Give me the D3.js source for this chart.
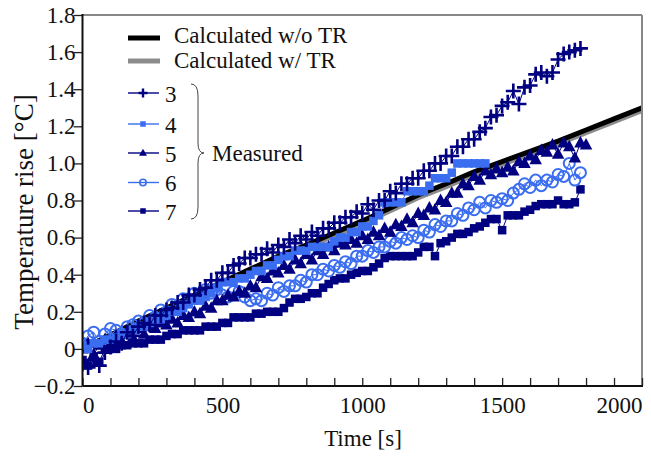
<!DOCTYPE html>
<html>
<head>
<meta charset="utf-8">
<script src="https://cdn.jsdelivr.net/npm/d3@7"></script>
</head>
<body style="margin:0">
<svg id="chart" width="651" height="459" font-family="Liberation Serif, Times New Roman, serif"></svg>
<script>
// sample times of the measured runs [s]
const times = [0, 20, 40, 60, 80, 100, 120, 140, 160, 180, 200, 220, 240, 260, 280, 300, 320, 340, 360, 380,
  400, 420, 440, 460, 480, 500, 520, 540, 560, 580, 600, 620, 640, 660, 680, 700, 720, 740, 760, 780,
  800, 820, 840, 860, 880, 900, 920, 940, 960, 980, 1000, 1020, 1040, 1060, 1080, 1100, 1120, 1140, 1160, 1180,
  1200, 1220, 1240, 1260, 1280, 1300, 1320, 1340, 1360, 1380, 1400, 1420, 1440, 1460, 1480, 1500, 1520, 1540,
  1560, 1580, 1600, 1620, 1640, 1660, 1680, 1700, 1720, 1740, 1760, 1780, 1800];

// measured temperature rise [°C]
const run3 = [-0.08, -0.1, -0.06, -0.09, -0.02, 0.01, 0.04, 0.03, 0.09, 0.07, 0.12, 0.14, 0.13, 0.18, 0.18,
  0.21, 0.22, 0.25, 0.25, 0.29, 0.29, 0.32, 0.33, 0.37, 0.37, 0.41, 0.41, 0.45, 0.46, 0.49, 0.49, 0.51, 0.51,
  0.54, 0.52, 0.56, 0.55, 0.59, 0.57, 0.61, 0.59, 0.63, 0.61, 0.65, 0.65, 0.68, 0.68, 0.71, 0.71, 0.74, 0.73,
  0.78, 0.75, 0.8, 0.8, 0.85, 0.84, 0.89, 0.89, 0.92, 0.92, 0.96, 0.96, 1.0, 1.0, 1.04, 1.04, 1.09, 1.09,
  1.13, 1.13, 1.17, 1.19, 1.25, 1.26, 1.31, 1.33, 1.39, 1.32, 1.41, 1.42, 1.48, 1.49, 1.47, 1.49, 1.56, 1.59,
  1.6, 1.61, 1.62];
const run4 = [0.02, 0.0, 0.03, 0.03, 0.05, 0.05, 0.06, 0.08, 0.08, 0.1, 0.12, 0.12, 0.14, 0.16, 0.16, 0.18,
  0.2, 0.2, 0.22, 0.24, 0.26, 0.26, 0.28, 0.3, 0.33, 0.36, 0.36, 0.36, 0.38, 0.38, 0.4, 0.42, 0.42, 0.45,
  0.45, 0.48, 0.5, 0.5, 0.53, 0.53, 0.53, 0.55, 0.55, 0.55, 0.55, 0.58, 0.6, 0.6, 0.63, 0.63, 0.66, 0.66,
  0.69, 0.72, 0.79, 0.79, 0.79, 0.79, 0.85, 0.85, 0.85, 0.85, 0.88, 0.92, 0.92, 0.92, 0.95, 1.0, 1.0, 1.0,
  1.0, 1.0, 1.0];
const run5 = [0.0, 0.03, -0.03, 0.02, 0.05, 0.01, 0.07, 0.04, 0.09, 0.06, 0.11, 0.08, 0.12, 0.11, 0.14, 0.13,
  0.16, 0.14, 0.18, 0.17, 0.2, 0.19, 0.23, 0.22, 0.26, 0.26, 0.29, 0.28, 0.31, 0.3, 0.34, 0.33, 0.39, 0.38,
  0.42, 0.41, 0.45, 0.43, 0.48, 0.46, 0.51, 0.48, 0.53, 0.51, 0.55, 0.53, 0.57, 0.56, 0.59, 0.57, 0.61, 0.59,
  0.63, 0.61, 0.65, 0.63, 0.67, 0.66, 0.7, 0.68, 0.73, 0.72, 0.76, 0.75, 0.8, 0.79, 0.84, 0.84, 0.89, 0.88,
  0.93, 0.91, 0.96, 0.94, 0.97, 0.95, 0.98, 0.96, 1.01, 1.0, 1.04, 1.02, 1.07, 1.06, 1.1, 1.05, 1.11, 1.09,
  1.03, 1.11, 1.1];
const run6 = [0.03, 0.07, 0.09, 0.04, 0.08, 0.11, 0.1, 0.08, 0.12, 0.13, 0.15, 0.14, 0.18, 0.17, 0.21, 0.2,
  0.24, 0.23, 0.27, 0.27, 0.3, 0.29, 0.32, 0.3, 0.32, 0.29, 0.28, 0.31, 0.31, 0.28, 0.26, 0.27, 0.26, 0.3,
  0.29, 0.33, 0.31, 0.34, 0.34, 0.37, 0.36, 0.4, 0.4, 0.43, 0.42, 0.45, 0.44, 0.47, 0.46, 0.5, 0.5, 0.53,
  0.52, 0.55, 0.55, 0.58, 0.57, 0.6, 0.59, 0.61, 0.6, 0.64, 0.63, 0.67, 0.66, 0.69, 0.69, 0.73, 0.72, 0.76,
  0.75, 0.79, 0.76, 0.8, 0.79, 0.81, 0.8, 0.84, 0.86, 0.89, 0.87, 0.91, 0.88, 0.91, 0.9, 0.94, 0.93, 1.0,
  0.91, 0.95];
const run7 = [-0.06, -0.09, -0.04, -0.07, 0.0, 0.02, 0.0, 0.02, 0.02, 0.03, 0.03, 0.03, 0.05, 0.05, 0.05,
  0.07, 0.08, 0.08, 0.1, 0.1, 0.1, 0.1, 0.12, 0.12, 0.12, 0.14, 0.14, 0.17, 0.17, 0.17, 0.17, 0.19, 0.19,
  0.2, 0.2, 0.2, 0.22, 0.25, 0.27, 0.27, 0.28, 0.3, 0.3, 0.33, 0.35, 0.37, 0.38, 0.38, 0.4, 0.41, 0.42,
  0.42, 0.44, 0.46, 0.49, 0.5, 0.5, 0.5, 0.5, 0.5, 0.52, 0.55, 0.55, 0.5, 0.57, 0.58, 0.6, 0.62, 0.62,
  0.63, 0.65, 0.66, 0.68, 0.7, 0.7, 0.64, 0.72, 0.72, 0.72, 0.74, 0.75, 0.77, 0.78, 0.78, 0.78, 0.8, 0.78,
  0.78, 0.79, 0.86];

// calculated curves
const calcTimes = [0, 100, 200, 300, 400, 500, 600, 700, 800, 900, 1000, 1100, 1200, 1300, 1400, 1500,
  1600, 1700, 1800, 1900, 2000];
const calcNoTR = [0.0, 0.075, 0.15, 0.22, 0.29, 0.36, 0.43, 0.5, 0.56, 0.625, 0.69, 0.76, 0.83, 0.89,
  0.955, 1.01, 1.065, 1.12, 1.18, 1.24, 1.3];
const calcTR = [0.0, 0.07, 0.14, 0.21, 0.28, 0.35, 0.415, 0.485, 0.545, 0.61, 0.675, 0.745, 0.815, 0.875,
  0.94, 0.995, 1.05, 1.105, 1.165, 1.225, 1.285];

const xTickLabels = [0, 500, 1000, 1500, 2000];
const yTickLabels = [-0.2, 0, 0.2, 0.4, 0.6, 0.8, 1.0, 1.2, 1.4, 1.6, 1.8];

const navy = "#000080", light = "#3a6df0";
const textFont = "Liberation Serif, Times New Roman, serif";

const runs = [
  {name: "3", values: run3, color: navy, shape: "plus"},
  {name: "4", values: run4, color: light, shape: "square"},
  {name: "5", values: run5, color: navy, shape: "triangle"},
  {name: "6", values: run6, color: light, shape: "circle"},
  {name: "7", values: run7, color: navy, shape: "square"}
];

const W = 651, H = 459;
const margin = {top: 15, right: 9, bottom: 73, left: 82.5};
const innerW = W - margin.left - margin.right;
const innerH = H - margin.top - margin.bottom;

const svg = d3.select("#chart");

const x = d3.scaleLinear().domain([0, 2000]).range([margin.left, margin.left + innerW]);
const y = d3.scaleLinear().domain([-0.2, 1.8]).range([margin.top + innerH, margin.top]);

function label(g, size) {
  return g.append("text").attr("class", "lbl").attr("font-family", textFont)
    .attr("font-size", size).attr("fill", "#111");
}

svg.append("clipPath").attr("id", "plotclip")
  .append("rect")
  .attr("x", margin.left).attr("y", margin.top)
  .attr("width", innerW).attr("height", innerH);

const plot = svg.append("g").attr("clip-path", "url(#plotclip)");

// calculated lines
const calcLine = d3.line().x((d, i) => x(calcTimes[i])).y(d => y(d));
plot.append("path").datum(calcTR)
  .attr("d", calcLine).attr("fill", "none")
  .attr("stroke", "#8c8c8c").attr("stroke-width", 5);
plot.append("path").datum(calcNoTR)
  .attr("d", calcLine).attr("fill", "none")
  .attr("stroke", "#000").attr("stroke-width", 5);

// marker drawing
function marker(g, shape, color, big) {
  if (shape === "plus") {
    const s = big ? 7.5 : 4.5;
    g.append("path").attr("d", `M${-s},0H${s}M0,${-s}V${s}`)
      .attr("stroke", color).attr("stroke-width", big ? 2.6 : 2.4).attr("fill", "none");
  } else if (shape === "square") {
    const s = big ? 8.5 : 5.5;
    g.append("rect").attr("x", -s / 2).attr("y", -s / 2).attr("width", s).attr("height", s)
      .attr("fill", color);
  } else if (shape === "triangle") {
    const w = big ? 12.5 : 8, h = big ? 11.5 : 7;
    g.append("path").attr("d", `M0,${-h * 0.6}L${w / 2},${h * 0.4}L${-w / 2},${h * 0.4}Z`)
      .attr("fill", color);
  } else if (shape === "circle") {
    g.append("circle").attr("r", big ? 5.5 : 3.2)
      .attr("fill", "none").attr("stroke", color).attr("stroke-width", big ? 2 : 1.6);
  }
}

// measured runs, last drawn first so run 3 stays on top
runs.slice().reverse().forEach(run => {
  const line = d3.line().x((d, i) => x(times[i])).y(d => y(d));
  plot.append("path").datum(run.values)
    .attr("d", line).attr("fill", "none")
    .attr("stroke", run.color).attr("stroke-width", 1);
  plot.append("g").selectAll("g")
    .data(run.values)
    .join("g")
    .attr("transform", (d, i) => `translate(${x(times[i])},${y(d)})`)
    .each(function () { marker(d3.select(this), run.shape, run.color, true); });
});

// frame: grey top and right
svg.append("line").attr("x1", margin.left).attr("x2", margin.left + innerW)
  .attr("y1", margin.top).attr("y2", margin.top).attr("stroke", "#888").attr("stroke-width", 2);
svg.append("line").attr("x1", margin.left + innerW).attr("x2", margin.left + innerW)
  .attr("y1", margin.top).attr("y2", margin.top + innerH).attr("stroke", "#888").attr("stroke-width", 2);

// y axis
const yAxis = svg.append("g")
  .attr("transform", `translate(${margin.left},0)`)
  .call(d3.axisLeft(y).tickValues(yTickLabels).tickSize(9).tickPadding(0)
    .tickFormat(d => d === 0 ? "0" : d3.format(".1f")(d)));
yAxis.attr("font-family", textFont).attr("font-size", 23);
yAxis.select(".domain").remove();
yAxis.selectAll(".tick line").attr("stroke", "#222").attr("stroke-width", 1.3);
yAxis.selectAll(".tick text").attr("class", "lbl").attr("x", -7)
  .attr("font-family", textFont).attr("fill", "#111");

// x axis, minor ticks every 100 pointing inward
const xAxis = svg.append("g")
  .attr("transform", `translate(0,${margin.top + innerH})`)
  .call(d3.axisBottom(x).tickValues(d3.range(0, 2001, 100)).tickSize(-8).tickPadding(0)
    .tickFormat(d => xTickLabels.includes(d) ? d : ""));
xAxis.attr("font-family", textFont).attr("font-size", 23);
xAxis.select(".domain").remove();
xAxis.selectAll(".tick line").attr("stroke", "#222").attr("stroke-width", 1.3);
xAxis.selectAll(".tick text").attr("class", "lbl").attr("y", 27).attr("dy", 0)
  .attr("font-family", textFont).attr("fill", "#111")
  .attr("text-anchor", d => d === 0 ? "start" : d === 2000 ? "end" : "middle");

// black left and bottom axis lines
svg.append("line").attr("x1", margin.left).attr("x2", margin.left)
  .attr("y1", margin.top - 1).attr("y2", margin.top + innerH).attr("stroke", "#111").attr("stroke-width", 2);
svg.append("line").attr("x1", margin.left).attr("x2", margin.left + innerW + 1)
  .attr("y1", margin.top + innerH).attr("y2", margin.top + innerH).attr("stroke", "#111").attr("stroke-width", 2);

// axis titles
label(svg, 23).attr("x", 363).attr("y", 446).attr("text-anchor", "middle").text("Time [s]");
label(svg, 27).attr("transform", "translate(33,212) rotate(-90)")
  .attr("text-anchor", "middle").text("Temperature rise [°C]");

// legend
const legend = svg.append("g");
legend.append("line").attr("x1", 128).attr("x2", 160).attr("y1", 38).attr("y2", 38)
  .attr("stroke", "#000").attr("stroke-width", 5);
label(legend, 23).attr("x", 174).attr("y", 43).text("Calculated w/o TR");
legend.append("line").attr("x1", 128).attr("x2", 160).attr("y1", 61).attr("y2", 61)
  .attr("stroke", "#8c8c8c").attr("stroke-width", 5);
label(legend, 23).attr("x", 174).attr("y", 68).text("Calculated w/ TR");

const legendY = [93, 124, 153, 182.5, 211];
runs.forEach((run, i) => {
  const g = legend.append("g").attr("transform", `translate(0,${legendY[i]})`);
  g.append("line").attr("x1", 128).attr("x2", 159).attr("stroke", run.color).attr("stroke-width", 1.4);
  marker(g.append("g").attr("transform", "translate(143,0)"), run.shape, run.color, false);
  label(g, 23).attr("x", 165).attr("y", 8.5).text(run.name);
});

// brace grouping the measured runs
legend.append("path")
  .attr("d", "M191,84 Q198,84 198,96 L198,143 Q198,153 204,153 Q198,153 198,163 L198,207 Q198,219 191,219")
  .attr("fill", "none").attr("stroke", "#444").attr("stroke-width", 1);
label(legend, 23).attr("x", 212).attr("y", 161).text("Measured");

// re-apply the serif face once local fonts are ready
if (document.fonts && document.fonts.ready) {
  document.fonts.ready.then(() => {
    svg.selectAll("text.lbl").style("font-family", '"Liberation Serif", "Times New Roman", serif');
  });
}
</script>
</body>
</html>
